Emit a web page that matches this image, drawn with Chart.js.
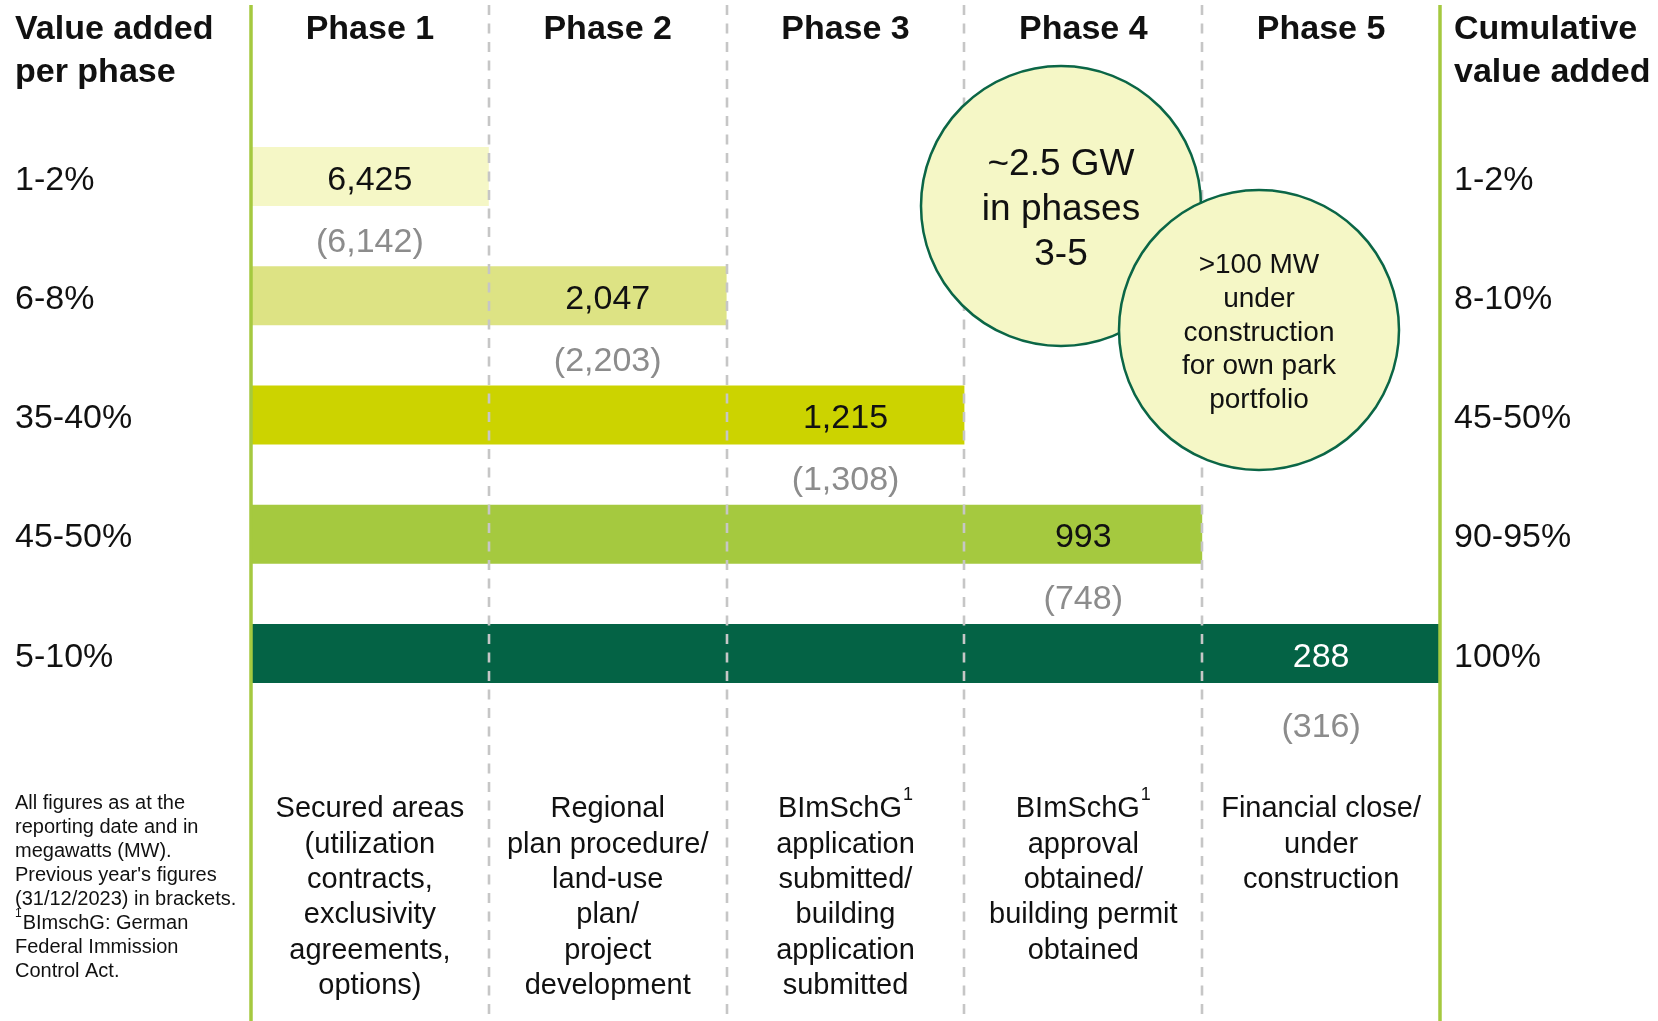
<!DOCTYPE html>
<html>
<head>
<meta charset="utf-8">
<title>Project pipeline by phase</title>
<script src="https://cdn.jsdelivr.net/npm/chart.js@4.4.1/dist/chart.umd.min.js"></script>
<style>
    html, body { margin: 0; padding: 0; background: #fff; }
    #wrap { width: 1658px; height: 1021px; }
</style>
</head>
<body>
<div id="wrap"><canvas id="pipeline" width="1658" height="1021"></canvas></div>
<script>
// --- data ---
const phaseHeaders = ['Phase 1', 'Phase 2', 'Phase 3', 'Phase 4', 'Phase 5'];
const valueAddedPerPhase = ['1-2%', '6-8%', '35-40%', '45-50%', '5-10%'];
const cumulativeValueAdded = ['1-2%', '8-10%', '45-50%', '90-95%', '100%'];
const phaseReached = [1, 2, 3, 4, 5];
const capacityMW = [6425, 2047, 1215, 993, 288];
const previousYearMW = [6142, 2203, 1308, 748, 316];
const phaseDescriptions = [
    ['Secured areas', '(utilization', 'contracts,', 'exclusivity', 'agreements,', 'options)'],
    ['Regional', 'plan procedure/', 'land-use', 'plan/', 'project', 'development'],
    ['BImSchG^1', 'application', 'submitted/', 'building', 'application', 'submitted'],
    ['BImSchG^1', 'approval', 'obtained/', 'building permit', 'obtained'],
    ['Financial close/', 'under', 'construction']
];
const footnoteLines = [
    'All figures as at the',
    'reporting date and in',
    'megawatts (MW).',
    "Previous year's figures",
    '(31/12/2023) in brackets.',
    '^1BImschG: German',
    'Federal Immission',
    'Control Act.'
];
const callouts = [
    { lines: ['~2.5 GW', 'in phases', '3-5'] },
    { lines: ['>100 MW', 'under', 'construction', 'for own park', 'portfolio'] }
];

// --- styles ---
const barColors = ['#F5F7C6', '#DDE384', '#CCD300', '#A5C93F', '#046345'];
const labelColors = ['#111', '#111', '#111', '#111', '#fff'];
const FONT = '"Liberation Sans", Arial, Helvetica, sans-serif';
const GREEN_LINE = '#A5C93F';
const DASH_GREY = '#C6C6C6';
const PREV_GREY = '#8C8C8C';
const CIRCLE_FILL = '#F5F7C6';
const CIRCLE_STROKE = '#0B6646';
const calloutLayout = [
    { x: 1061, y: 206, r: 140, size: 37, lineH: 45 },
    { x: 1259, y: 330, r: 140, size: 28, lineH: 33.7 }
];

// textBaseline 'middle' sits a little high, nudge down to the visual centre
function drawText(ctx, str, x, y, size, opts = {}) {
    ctx.font = `${opts.bold ? 'bold ' : ''}${size}px ${FONT}`;
    ctx.fillStyle = opts.color || '#111';
    ctx.textAlign = opts.align || 'left';
    ctx.textBaseline = 'middle';
    ctx.fillText(str, x, y + size * 0.11);
}

// line with an optional "^1" superscript marker
function drawSupLine(ctx, line, x, y, size, align) {
    const supSize = Math.round(size * 0.62);
    let main = line, sup = '', supFirst = false;
    if (line.startsWith('^')) {
        sup = line.slice(1, 2);
        main = line.slice(2);
        supFirst = true;
    } else if (line.includes('^')) {
        [main, sup] = line.split('^');
    }
    ctx.font = `${size}px ${FONT}`;
    const mainW = ctx.measureText(main).width;
    ctx.font = `${supSize}px ${FONT}`;
    const supW = sup ? ctx.measureText(sup).width + 1 : 0;
    let left = align === 'center' ? x - (mainW + supW) / 2 : x;
    if (supFirst) {
        drawText(ctx, sup, left, y - size * 0.42, supSize);
        drawText(ctx, main, left + supW, y, size);
    } else {
        drawText(ctx, main, left, y, size);
        if (sup) drawText(ctx, sup, left + mainW + 1, y - size * 0.45, supSize);
    }
}

const overlayPlugin = {
    id: 'pipelineOverlay',
    afterDatasetsDraw(chart) {
        const { ctx, scales: { x, y }, height } = chart;
        ctx.save();

        // phase separators (dashed) on top of the bars
        ctx.strokeStyle = DASH_GREY;
        ctx.lineWidth = 2.6;
        ctx.setLineDash([10, 8.5]);
        for (let p = 1; p < phaseHeaders.length; p++) {
            const px = Math.round(x.getPixelForValue(p));
            ctx.beginPath();
            ctx.moveTo(px, 5);
            ctx.lineTo(px, height);
            ctx.stroke();
        }
        ctx.setLineDash([]);

        // outer green rules
        ctx.strokeStyle = GREEN_LINE;
        ctx.lineWidth = 3.5;
        [0, phaseHeaders.length].forEach(v => {
            const px = x.getPixelForValue(v);
            ctx.beginPath();
            ctx.moveTo(px, 5);
            ctx.lineTo(px, height);
            ctx.stroke();
        });

        // column headers
        drawText(ctx, 'Value added', 15, 26, 34, { bold: true });
        drawText(ctx, 'per phase', 15, 69, 34, { bold: true });
        drawText(ctx, 'Cumulative', x.getPixelForValue(5) + 14, 26, 34, { bold: true });
        drawText(ctx, 'value added', x.getPixelForValue(5) + 14, 69, 34, { bold: true });
        phaseHeaders.forEach((h, i) => {
            drawText(ctx, h, x.getPixelForValue(i + 0.5), 26, 34, { bold: true, align: 'center' });
        });

        // row labels and values
        valueAddedPerPhase.forEach((lab, i) => {
            const cy = y.getPixelForValue(i);
            const cx = x.getPixelForValue(phaseReached[i] - 0.5);
            drawText(ctx, lab, 15, cy, 34);
            drawText(ctx, cumulativeValueAdded[i], x.getPixelForValue(5) + 14, cy, 34);
            drawText(ctx, capacityMW[i].toLocaleString('en-US'), cx, cy, 34,
                { align: 'center', color: labelColors[i] });
            const prevOffset = i === valueAddedPerPhase.length - 1 ? 70 : 62;
            drawText(ctx, `(${previousYearMW[i].toLocaleString('en-US')})`, cx, cy + prevOffset, 34,
                { align: 'center', color: PREV_GREY });
        });

        // phase descriptions
        phaseDescriptions.forEach((lines, i) => {
            const cx = x.getPixelForValue(i + 0.5);
            lines.forEach((line, j) => drawSupLine(ctx, line, cx, 806 + j * 35.4, 29, 'center'));
        });

        // footnote
        footnoteLines.forEach((line, j) => drawSupLine(ctx, line, 15, 801 + j * 24, 20, 'left'));

        // callout bubbles
        callouts.forEach((c, k) => {
            const L = calloutLayout[k];
            ctx.beginPath();
            ctx.arc(L.x, L.y, L.r, 0, Math.PI * 2);
            ctx.fillStyle = CIRCLE_FILL;
            ctx.fill();
            ctx.strokeStyle = CIRCLE_STROKE;
            ctx.lineWidth = 2.5;
            ctx.stroke();
            const top = L.y - (c.lines.length - 1) * L.lineH / 2;
            c.lines.forEach((line, j) => {
                drawText(ctx, line, L.x, top + j * L.lineH, L.size, { align: 'center' });
            });
        });

        ctx.restore();
    }
};

const chart = new Chart(document.getElementById('pipeline'), {
    type: 'bar',
    data: {
        labels: valueAddedPerPhase,
        datasets: [{
            data: phaseReached,
            backgroundColor: barColors,
            borderWidth: 0,
            barPercentage: 1,
            categoryPercentage: 0.495
        }]
    },
    options: {
        indexAxis: 'y',
        responsive: false,
        animation: false,
        layout: { padding: { left: 251, right: 218, top: 117, bottom: 308 } },
        scales: {
            x: { min: 0, max: 5, display: false },
            y: { display: false }
        },
        plugins: {
            legend: { display: false },
            tooltip: { enabled: false }
        }
    },
    plugins: [overlayPlugin]
});
</script>
</body>
</html>
